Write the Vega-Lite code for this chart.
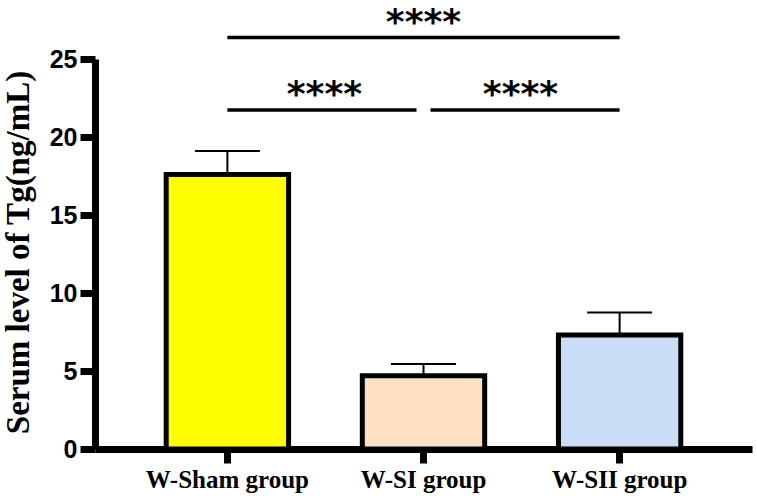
{
  "$schema": "https://vega.github.io/schema/vega-lite/v6.json",
  "autosize": {"type": "none"},
  "width": 657,
  "height": 390,
  "padding": {"left": 95, "top": 59, "right": 5, "bottom": 53},
  "background": "white",
  "config": {
    "view": {"stroke": null},
    "axis": {
      "labelColor": "black",
      "tickColor": "black",
      "tickWidth": 7,
      "domainColor": "black",
      "domainWidth": 7,
      "grid": false
    },
    "axisX": {
      "labelAngle": 0,
      "labelFont": "Liberation Serif",
      "labelFontWeight": "bold",
      "labelFontSize": 25,
      "labelPadding": 4,
      "tickSize": 14
    },
    "axisY": {
      "labelFont": "Liberation Sans",
      "labelFontWeight": "bold",
      "labelFontSize": 25,
      "labelPadding": 3,
      "tickSize": 15,
      "titleFont": "Liberation Serif",
      "titleFontWeight": "bold",
      "titleFontSize": 33,
      "titleColor": "black"
    }
  },
  "datasets": {
    "bars": [
      {"group": "W-Sham group", "value": 17.6, "upper": 19.1},
      {"group": "W-SI group", "value": 4.7, "upper": 5.45},
      {"group": "W-SII group", "value": 7.3, "upper": 8.75}
    ],
    "sig": [
      {"from": "W-Sham group", "to": "W-SII group", "y": 26.38, "labelAt": "W-SI group", "ly": 26.6, "pos": "top"},
      {"from": "W-Sham group", "to": "W-SI group", "y": 21.73, "labelAt": "W-Sham group", "ly": 22.0, "pos": "left"},
      {"from": "W-SI group", "to": "W-SII group", "y": 21.73, "labelAt": "W-SI group", "ly": 22.0, "pos": "right"}
    ]
  },
  "layer": [
    {
      "data": {"name": "bars"},
      "mark": {"type": "rule", "color": "black", "strokeWidth": 2},
      "encoding": {
        "x": {
          "field": "group",
          "type": "nominal",
          "sort": ["W-Sham group", "W-SI group", "W-SII group"],
          "scale": {"domain": ["W-Sham group", "W-SI group", "W-SII group"], "paddingInner": 0.376, "paddingOuter": 0.363},
          "axis": {"title": null}
        },
        "y": {
          "field": "value",
          "type": "quantitative",
          "scale": {"domain": [0, 25], "nice": false},
          "axis": {
            "title": "Serum level of Tg(ng/mL)",
            "titleAngle": -90,
            "titleAlign": "center",
            "titleBaseline": "alphabetic",
            "titleX": -67,
            "titleY": 193,
            "values": [0, 5, 10, 15, 20, 25]
          }
        },
        "y2": {"field": "upper"}
      }
    },
    {
      "data": {"name": "bars"},
      "mark": {"type": "tick", "color": "black", "thickness": 2, "size": 65, "opacity": 1},
      "encoding": {
        "x": {"field": "group", "type": "nominal", "sort": ["W-Sham group", "W-SI group", "W-SII group"]},
        "y": {"field": "upper", "type": "quantitative"}
      }
    },
    {
      "data": {"name": "bars"},
      "mark": {"type": "bar", "stroke": "black", "strokeWidth": 5},
      "encoding": {
        "x": {"field": "group", "type": "nominal", "sort": ["W-Sham group", "W-SI group", "W-SII group"]},
        "y": {"field": "value", "type": "quantitative"},
        "fill": {
          "field": "group",
          "type": "nominal",
          "scale": {"domain": ["W-Sham group", "W-SI group", "W-SII group"], "range": ["#FFFF00", "#FDE0C4", "#C9DDF6"]},
          "legend": null
        }
      }
    },
    {
      "data": {"name": "sig"},
      "transform": [{"filter": "datum.pos === 'top'"}],
      "mark": {"type": "rule", "color": "black", "strokeWidth": 3.5},
      "encoding": {
        "x": {"field": "from", "type": "nominal", "sort": ["W-Sham group", "W-SI group", "W-SII group"]},
        "x2": {"field": "to"},
        "y": {"field": "y", "type": "quantitative"}
      }
    },
    {
      "data": {"name": "sig"},
      "transform": [{"filter": "datum.pos === 'left'"}],
      "mark": {"type": "rule", "color": "black", "strokeWidth": 3.5, "x2Offset": -7},
      "encoding": {
        "x": {"field": "from", "type": "nominal", "sort": ["W-Sham group", "W-SI group", "W-SII group"]},
        "x2": {"field": "to"},
        "y": {"field": "y", "type": "quantitative"}
      }
    },
    {
      "data": {"name": "sig"},
      "transform": [{"filter": "datum.pos === 'right'"}],
      "mark": {"type": "rule", "color": "black", "strokeWidth": 3.5, "xOffset": 7},
      "encoding": {
        "x": {"field": "from", "type": "nominal", "sort": ["W-Sham group", "W-SI group", "W-SII group"]},
        "x2": {"field": "to"},
        "y": {"field": "y", "type": "quantitative"}
      }
    },
    {
      "data": {"name": "sig"},
      "transform": [{"filter": "datum.pos === 'top'"}],
      "mark": {"type": "text", "text": "****", "font": "DejaVu Sans", "fontWeight": "bold", "fontSize": 36, "color": "black", "baseline": "alphabetic", "align": "center"},
      "encoding": {
        "x": {"field": "labelAt", "type": "nominal", "sort": ["W-Sham group", "W-SI group", "W-SII group"]},
        "y": {"field": "ly", "type": "quantitative"}
      }
    },
    {
      "data": {"name": "sig"},
      "transform": [{"filter": "datum.pos !== 'top'"}],
      "mark": {"type": "text", "text": "****", "font": "DejaVu Sans", "fontWeight": "bold", "fontSize": 36, "color": "black", "baseline": "alphabetic", "align": "center", "dx": 97},
      "encoding": {
        "x": {"field": "labelAt", "type": "nominal", "sort": ["W-Sham group", "W-SI group", "W-SII group"]},
        "y": {"field": "ly", "type": "quantitative"}
      }
    }
  ]
}
